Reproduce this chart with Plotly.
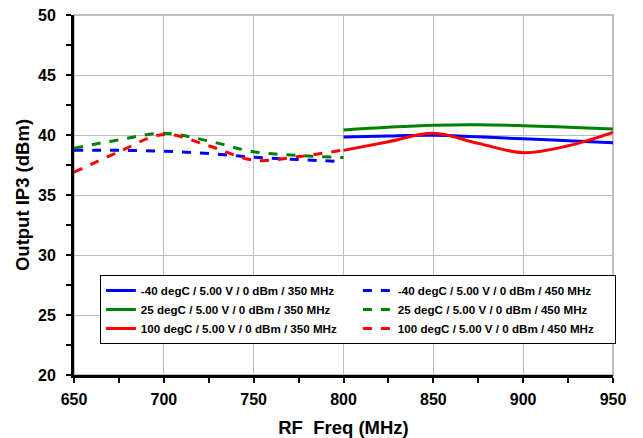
import plotly.graph_objects as go

# 450 MHz IF (dashed), RF 650-800 MHz
freq_450 = [650, 675, 700, 725, 750, 775, 800]
m40_450 = [38.72, 38.72, 38.65, 38.45, 38.15, 37.95, 37.78]
p25_450 = [38.9, 39.6, 40.15, 39.5, 38.6, 38.3, 38.12]
p100_450 = [36.9, 38.6, 40.05, 39.1, 37.9, 38.2, 38.75]

# 350 MHz IF (solid), RF 800-950 MHz
freq_350 = [800, 825, 850, 875, 900, 925, 950]
m40_350 = [39.83, 39.92, 39.97, 39.85, 39.68, 39.52, 39.36]
p25_350 = [40.42, 40.65, 40.82, 40.86, 40.78, 40.65, 40.5]
p100_350 = [38.72, 39.44, 40.14, 39.3, 38.53, 39.1, 40.22]

names_350 = ["-40 degC / 5.00 V / 0 dBm / 350 MHz",
             "25 degC / 5.00 V / 0 dBm / 350 MHz",
             "100 degC / 5.00 V / 0 dBm / 350 MHz"]
names_450 = ["-40 degC / 5.00 V / 0 dBm / 450 MHz",
             "25 degC / 5.00 V / 0 dBm / 450 MHz",
             "100 degC / 5.00 V / 0 dBm / 450 MHz"]
colors = ["#0000FF", "#008000", "#FF0000"]

fig = go.Figure()
s350 = [m40_350, p25_350, p100_350]
s450 = [m40_450, p25_450, p100_450]
for i in range(3):
    fig.add_trace(go.Scatter(x=freq_350, y=s350[i], name=names_350[i], mode="lines",
                             line=dict(color=colors[i], width=3, shape="spline")))
    fig.add_trace(go.Scatter(x=freq_450, y=s450[i], name=names_450[i], mode="lines",
                             line=dict(color=colors[i], width=3, dash="dash", shape="spline")))

font = "Liberation Sans, Arial, sans-serif"
fig.update_layout(
    width=643, height=438,
    margin=dict(l=74, r=30, t=15, b=63),
    paper_bgcolor="white", plot_bgcolor="white",
    font=dict(family=font, color="black"),
    showlegend=True,
    legend=dict(orientation="h", x=0.048, y=0.278, xanchor="left", yanchor="top",
                entrywidth=212, entrywidthmode="pixels",
                bgcolor="white", bordercolor="black", borderwidth=1,
                font=dict(family=font, size=11.6, color="black", weight="bold"),
                tracegroupgap=0, itemwidth=30),
    xaxis=dict(range=[650, 950], dtick=50, tick0=650, automargin=False,
               showgrid=True, gridcolor="#BDBDBD", gridwidth=1,
               showline=True, linecolor="black", linewidth=3,
               ticks="outside", ticklen=5, tickwidth=2, tickcolor="black",
               ticklabelstandoff=3,
               minor=dict(dtick=25, ticks="outside", ticklen=5, tickwidth=2, tickcolor="black", showgrid=False),
               tickfont=dict(family=font, size=16, color="black", weight="bold"),
               title=dict(text="RF  Freq (MHz)", standoff=14,
                          font=dict(family=font, size=18.5, color="black", weight="bold")),
               zeroline=False),
    yaxis=dict(range=[20, 50], dtick=5, tick0=20, automargin=False,
               showgrid=True, gridcolor="#BDBDBD", gridwidth=1,
               showline=True, linecolor="black", linewidth=3,
               ticks="outside", ticklen=5, tickwidth=2, tickcolor="black",
               ticklabelstandoff=7,
               minor=dict(dtick=2.5, ticks="outside", ticklen=5, tickwidth=2, tickcolor="black", showgrid=False),
               tickfont=dict(family=font, size=16, color="black", weight="bold"),
               title=dict(text="Output IP3 (dBm)", standoff=4,
                          font=dict(family=font, size=18.5, color="black", weight="bold")),
               zeroline=False),
)
# gray border on top/right like the reference
fig.add_shape(type="rect", xref="paper", yref="paper", x0=0, y0=0, x1=1, y1=1,
              line=dict(color="#AAAAAA", width=1.5), layer="below")

fig.write_html("out.html")
